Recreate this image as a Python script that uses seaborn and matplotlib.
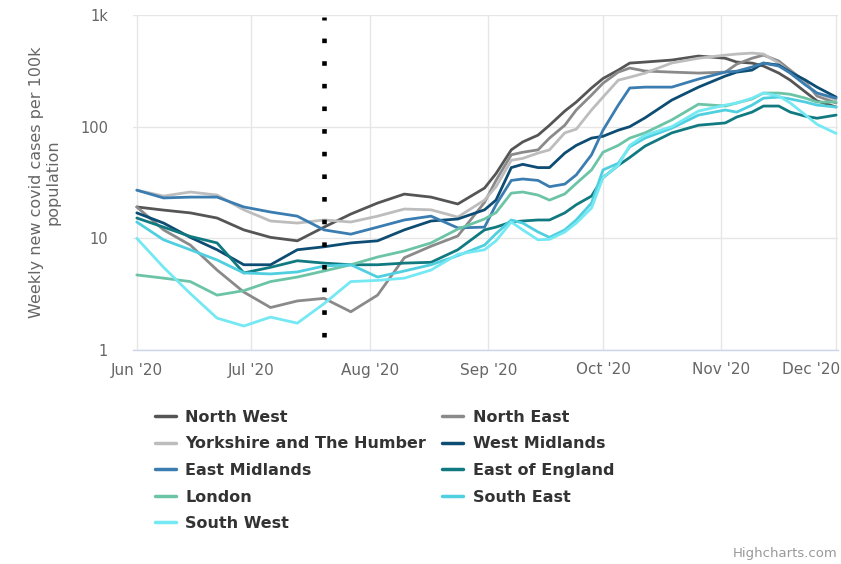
import matplotlib
matplotlib.use("Agg")
import matplotlib.pyplot as plt
import matplotlib.dates as mdates
import matplotlib.transforms as mtransforms
from matplotlib.lines import Line2D
from matplotlib.ticker import FixedLocator, FixedFormatter, NullLocator
import seaborn as sns
import pandas as pd

dates = ["2020-06-01", "2020-06-08", "2020-06-15", "2020-06-22", "2020-06-29",
         "2020-07-06", "2020-07-13", "2020-07-20", "2020-07-27", "2020-08-03",
         "2020-08-10", "2020-08-17", "2020-08-24", "2020-08-31", "2020-09-03",
         "2020-09-07", "2020-09-10", "2020-09-14", "2020-09-17", "2020-09-21",
         "2020-09-24", "2020-09-28", "2020-10-01", "2020-10-05", "2020-10-08",
         "2020-10-12", "2020-10-19", "2020-10-26", "2020-11-02", "2020-11-05",
         "2020-11-09", "2020-11-12", "2020-11-16", "2020-11-19", "2020-11-23",
         "2020-11-26", "2020-12-01"]

north_west = [19.1, 17.9, 16.9, 15.2, 11.9, 10.2, 9.5, 12.6, 16.5, 20.7, 24.9, 23.4, 20.3, 28.2,
              38, 62, 73, 84, 103, 138, 166, 222, 270, 321, 371, 379, 395, 429, 410, 379,
              371, 349, 302, 261, 204, 170, 150]
north_east = [19.1, 11.9, 8.7, 5.2, 3.3, 2.4, 2.75, 2.9, 2.2, 3.1, 6.7, 8.5, 10.5, 21,
              33, 56, 59, 62, 79, 103, 141, 192, 245, 308, 335, 315, 308, 302, 308, 363,
              410, 437, 387, 321, 251, 188, 163]
yorkshire = [27, 23.9, 26, 24.4, 18, 14.3, 13.7, 14.6, 14, 15.8, 18.3, 18, 15.5, 22,
             29, 50, 52, 58, 62, 88, 95, 141, 184, 261, 277, 302, 372, 410, 437, 447,
             456, 447, 370, 302, 240, 200, 173]
west_midlands = [16.9, 13.7, 10.2, 7.9, 5.8, 5.8, 7.9, 8.4, 9.1, 9.5, 11.9, 14.3, 14.9, 18,
                 22, 43, 46, 43, 43, 58, 68, 79, 82, 93, 100, 120, 173, 226, 284, 308,
                 321, 371, 356, 308, 261, 226, 184]
east_midlands = [27, 23, 23.4, 23.4, 19.1, 17.2, 15.8, 11.9, 10.9, 12.6, 14.6, 15.8, 12.4, 12.6,
                 20, 33, 34, 33, 29, 30.6, 37, 56, 93, 156, 222, 226, 226, 267, 308, 314,
                 342, 371, 349, 302, 236, 200, 180]
east_of_england = [15.2, 12.6, 10.4, 9.1, 4.9, 5.5, 6.3, 6.0, 5.8, 5.8, 6.0, 6.1, 7.9, 11.9,
                   12.6, 14, 14.3, 14.6, 14.6, 16.9, 20, 23.9, 35, 45, 53, 67, 88, 103, 108, 122,
                   135, 153, 153, 135, 124, 119, 127]
london = [4.7, 4.4, 4.1, 3.1, 3.4, 4.1, 4.5, 5.1, 5.8, 6.8, 7.7, 9.1, 12.1, 14.9,
          17, 25.4, 26, 24.4, 22, 25, 31, 41, 59, 68, 79, 88, 115, 159, 153, 163,
          177, 200, 200, 195, 180, 166, 166]
south_east = [14, 9.7, 7.9, 6.4, 4.9, 4.8, 5.0, 5.65, 5.8, 4.5, 5.1, 5.8, 7.0, 8.7,
              11, 14.6, 13.7, 11.4, 10.2, 11.9, 14.6, 20.7, 41, 47, 66, 79, 97, 127, 141, 135,
              156, 180, 184, 177, 166, 156, 150]
south_west = [10, 5.5, 3.2, 1.93, 1.64, 1.97, 1.74, 2.6, 4.1, 4.2, 4.4, 5.2, 7.2, 7.9,
              9.5, 14, 11.9, 9.7, 9.8, 11.4, 13.7, 18.7, 35, 45, 68, 84, 100, 138, 156, 163,
              180, 200, 188, 163, 127, 105, 87]

regions = ["North West", "North East", "Yorkshire and The Humber", "West Midlands",
           "East Midlands", "East of England", "London", "South East", "South West"]
series = [north_west, north_east, yorkshire, west_midlands, east_midlands,
          east_of_england, london, south_east, south_west]
colors = ["#555555", "#8a8a8a", "#bdbdbd", "#0d4c73", "#3b7db0",
          "#117a80", "#6cc4a6", "#4fcfdf", "#74e8f3"]

marker_date = ["2020-07-20", "2020-07-20"]
marker_values = [1.31, 960]

month_ticks = ["2020-06-01", "2020-07-01", "2020-08-01", "2020-09-01",
               "2020-10-01", "2020-11-01", "2020-12-01"]
month_labels = ["Jun '20", "Jul '20", "Aug '20", "Sep '20", "Oct '20", "Nov '20", "Dec '20"]
y_ticks = [1, 10, 100, 1000]
y_labels = ["1", "10", "100", "1k"]

rows = []
for name, vals in zip(regions, series):
    for d, v in zip(dates, vals):
        rows.append({"date": pd.Timestamp(d), "value": v, "region": name})
df = pd.DataFrame(rows)

sns.set_theme(style="white")
plt.rcParams["font.family"] = ["DejaVu Sans"]

fig = plt.figure(figsize=(8.41, 5.64), dpi=100)
ax = fig.add_axes([133 / 841, 1 - 350 / 564, 705 / 841, 335 / 564])

palette = dict(zip(regions, colors))
sns.lineplot(data=df, x="date", y="value", hue="region", hue_order=regions,
             palette=palette, linewidth=2.0, legend=False, ax=ax)

ax.plot(pd.to_datetime(marker_date), marker_values, color="black", lw=3.3,
        linestyle=(0, (1, 3.94)), dash_capstyle="butt", zorder=5)

ax.set_yscale("log")
ax.set_ylim(1, 1000)
ax.set_xlim(pd.Timestamp("2020-05-31"), pd.Timestamp("2020-12-01 12:00"))

ax.yaxis.set_major_locator(FixedLocator(y_ticks))
ax.yaxis.set_major_formatter(FixedFormatter(y_labels))
ax.yaxis.set_minor_locator(NullLocator())
ax.xaxis.set_major_locator(FixedLocator(mdates.date2num(pd.to_datetime(month_ticks))))
ax.xaxis.set_major_formatter(FixedFormatter(month_labels))

ax.grid(True, which="major", color="#e6e6e6", linewidth=1)
for s in ["top", "right", "left"]:
    ax.spines[s].set_visible(False)
ax.spines["bottom"].set_color("#ccd6eb")
ax.spines["bottom"].set_linewidth(1)

ax.tick_params(axis="y", length=0, pad=18, labelsize=10.5, labelcolor="#666666")
ax.tick_params(axis="x", length=7, width=1, color="#ccd6eb", pad=2,
               labelsize=11, labelcolor="#666666")

last = ax.xaxis.get_major_ticks()[-1].label1
last.set_horizontalalignment("right")
last.set_transform(last.get_transform() + mtransforms.ScaledTranslation(4 / 100, 0, fig.dpi_scale_trans))

ax.set_xlabel("")
ax.set_ylabel("Weekly new covid cases per 100k\npopulation", fontsize=11.5,
              color="#666666", labelpad=14, linespacing=1.1)

order = [0, 2, 4, 6, 8, 1, 3, 5, 7]
handles = [Line2D([0], [0], color=colors[i], lw=2.5) for i in order]
labels = [regions[i] for i in order]
leg = fig.legend(handles, labels, loc="upper left", bbox_to_anchor=(155 / 841, 1 - 410 / 564),
                 ncol=2, frameon=False, prop={"weight": "bold", "size": 11.5},
                 handlelength=1.3, handletextpad=0.6, columnspacing=1.0,
                 labelspacing=0.72, borderpad=0, borderaxespad=0)
for t in leg.get_texts():
    t.set_color("#333333")

fig.text(838 / 841, 4 / 564, "Highcharts.com", ha="right", va="bottom",
         color="#999999", fontsize=9.5)

fig.savefig("out.png", dpi=100)
